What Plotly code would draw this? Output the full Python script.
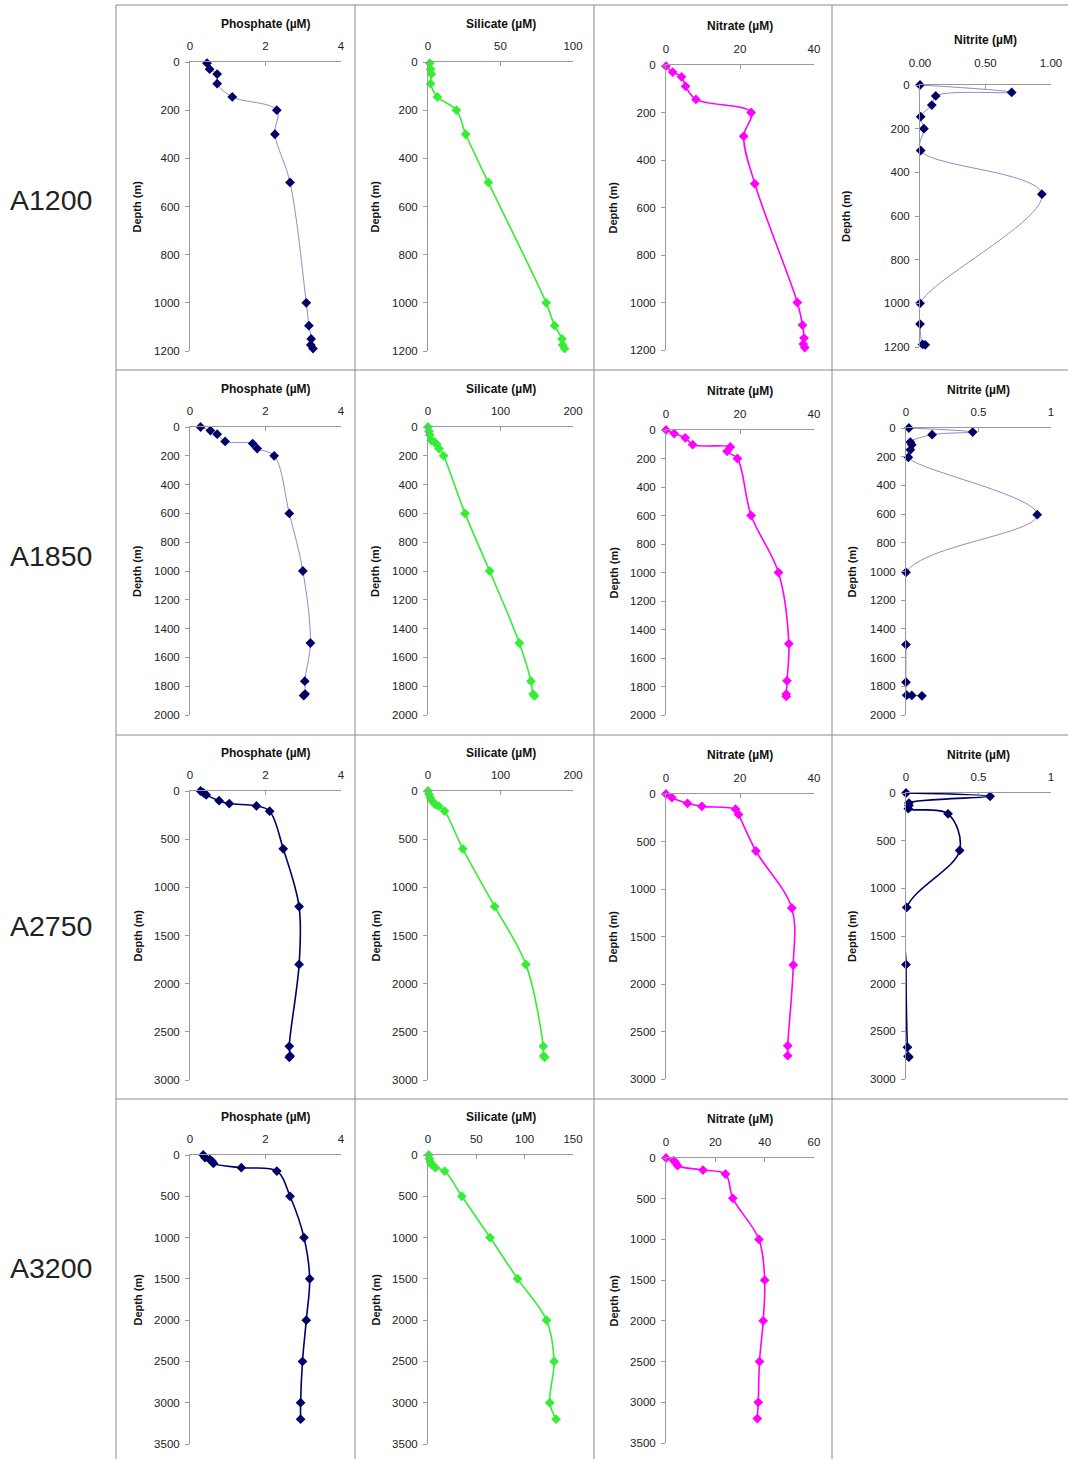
import plotly.graph_objects as go

# ---------------- data ----------------
stations = ["A1200", "A1850", "A2750", "A3200"]

# A1200
phos_depth_a1200 = [5, 30, 50, 90, 145, 200, 300, 500, 1000, 1095, 1150, 1175, 1190]
phos_a1200 = [0.45, 0.52, 0.72, 0.72, 1.12, 2.30, 2.25, 2.65, 3.08, 3.15, 3.21, 3.20, 3.26]
sil_depth_a1200 = [5, 30, 50, 90, 145, 200, 300, 500, 1000, 1095, 1150, 1175, 1190]
sil_a1200 = [1.2, 1.8, 2.3, 1.8, 6.5, 19.6, 26.0, 41.6, 81.5, 87.3, 92.4, 92.8, 94.2]
nitrate_depth_a1200 = [5, 30, 50, 90, 145, 200, 300, 500, 1000, 1095, 1150, 1175, 1190]
nitrate_a1200 = [0.0, 1.8, 4.2, 5.3, 8.1, 23.0, 21.0, 24.0, 35.5, 36.9, 37.3, 37.1, 37.5]
nitrite_depth_a1200 = [0, 34, 50, 92, 145, 200, 300, 500, 1000, 1095, 1188, 1190]
nitrite_a1200 = [0.0, 0.70, 0.12, 0.09, 0.005, 0.03, 0.005, 0.93, 0.0, 0.0, 0.02, 0.04]

# A1850
phos_depth_a1850 = [0, 25, 50, 100, 115, 150, 200, 600, 1000, 1500, 1765, 1855, 1865]
phos_a1850 = [0.28, 0.54, 0.72, 0.93, 1.66, 1.78, 2.23, 2.63, 2.99, 3.19, 3.04, 3.05, 3.01]
sil_depth_a1850 = [0, 30, 55, 92, 104, 120, 150, 200, 600, 1000, 1500, 1765, 1855, 1868]
sil_a1850 = [0.0, 1.3, 2.5, 4.4, 8.9, 12.0, 15.2, 21.5, 51.0, 85.0, 126.0, 142.0, 145.0, 147.0]
nitrate_depth_a1850 = [0, 25, 55, 103, 119, 150, 200, 600, 1000, 1500, 1760, 1853, 1870]
nitrate_a1850 = [0.0, 2.2, 5.2, 7.2, 17.4, 16.5, 19.3, 23.0, 30.4, 33.2, 32.7, 32.5, 32.5]
nitrite_depth_a1850 = [0, 28, 47, 98, 117, 152, 204, 604, 1006, 1509, 1771, 1862, 1864, 1866]
nitrite_a1850 = [0.02, 0.46, 0.18, 0.03, 0.04, 0.03, 0.016, 0.905, 0.0, 0.0, 0.0, 0.005, 0.04, 0.11]

# A2750
phos_depth_a2750 = [0, 20, 40, 100, 130, 155, 210, 600, 1200, 1800, 2650, 2750, 2765]
phos_a2750 = [0.28, 0.36, 0.43, 0.77, 1.04, 1.76, 2.11, 2.47, 2.89, 2.89, 2.63, 2.65, 2.63]
sil_depth_a2750 = [0, 35, 70, 104, 139, 156, 208, 600, 1200, 1800, 2650, 2750, 2765]
sil_a2750 = [0.0, 1.3, 3.2, 5.7, 10.0, 14.6, 22.8, 48.0, 92.0, 135.0, 159.0, 159.5, 160.8]
nitrate_depth_a2750 = [0, 39, 98, 130, 160, 215, 600, 1200, 1800, 2650, 2755]
nitrate_a2750 = [0.0, 1.6, 5.8, 9.7, 18.8, 19.6, 24.3, 34.0, 34.4, 32.9, 32.9]
nitrite_depth_a2750 = [0, 35, 105, 130, 165, 218, 603, 1200, 1800, 2667, 2762, 2770]
nitrite_a2750 = [0.0, 0.58, 0.02, 0.02, 0.016, 0.29, 0.37, 0.005, 0.0, 0.01, 0.014, 0.02]

# A3200
phos_depth_a3200 = [0, 32, 53, 73, 101, 154, 195, 500, 1000, 1500, 2000, 2500, 3000, 3200]
phos_a3200 = [0.35, 0.40, 0.52, 0.58, 0.62, 1.36, 2.30, 2.65, 3.02, 3.17, 3.08, 2.98, 2.93, 2.93]
sil_depth_a3200 = [0, 45, 85, 114, 154, 195, 500, 1000, 1500, 2000, 2500, 3000, 3200]
sil_a3200 = [0.7, 1.4, 2.4, 3.4, 7.6, 17.2, 35.0, 64.2, 92.7, 122.6, 130.4, 126.0, 132.5]
nitrate_depth_a3200 = [0, 33, 53, 95, 148, 197, 495, 1000, 1500, 2000, 2500, 3000, 3200]
nitrate_a3200 = [0.0, 3.1, 3.8, 4.7, 15.0, 24.1, 27.1, 37.7, 40.0, 39.4, 37.9, 37.4, 37.0]

# axis settings
depth_max = [1200, 2000, 3000, 3500]
depth_dtick = [200, 200, 500, 500]
phos_range = [0, 4]; phos_dtick = 2
sil_ranges = [[0, 100], [0, 200], [0, 200], [0, 150]]
sil_dticks = [50, 100, 100, 50]
nitrate_ranges = [[0, 40], [0, 40], [0, 40], [0, 60]]
nitrate_dticks = [20, 20, 20, 20]
nitrite_range = [0, 1]; nitrite_dtick = 0.5

# ---------------- layout geometry (pixels) ----------------
W, H = 1068, 1459
FONT = "Arial, Liberation Sans, sans-serif"
NAVY = "#000066"
LIGHT = "#8c8cc8"
GREEN = "#33ee33"
MAGENTA = "#ff00ff"

def px(x):
    return x / W

def py(y):
    return 1 - y / H

fig = go.Figure()
layout = {}
annotations = []
shapes = []

# row, col, title, depth, values, xrange, dtick, x px, y px, line colour, width,
# marker colour, tick format, depth-title x, tick label standoff, title offset
panel_list = [
    (0, 0, "Phosphate (µM)", phos_depth_a1200, phos_a1200, phos_range, phos_dtick, (190, 341), (62, 351), LIGHT, 1, NAVY, None, 137, 6, 38),
    (0, 1, "Silicate (µM)", sil_depth_a1200, sil_a1200, sil_ranges[0], sil_dticks[0], (428, 573), (62, 351), GREEN, 1.6, GREEN, None, 375, 6, 38),
    (0, 2, "Nitrate (µM)", nitrate_depth_a1200, nitrate_a1200, nitrate_ranges[0], nitrate_dticks[0], (666, 814), (65, 350), MAGENTA, 1.6, MAGENTA, None, 613, 6, 39),
    (0, 3, "Nitrite (µM)", nitrite_depth_a1200, nitrite_a1200, nitrite_range, nitrite_dtick, (920, 1051), (85, 347), LIGHT, 1, NAVY, ".2f", 846, 12, 45),
    (1, 0, "Phosphate (µM)", phos_depth_a1850, phos_a1850, phos_range, phos_dtick, (190, 341), (427, 715), LIGHT, 1, NAVY, None, 137, 6, 38),
    (1, 1, "Silicate (µM)", sil_depth_a1850, sil_a1850, sil_ranges[1], sil_dticks[1], (428, 573), (427, 715), GREEN, 1.6, GREEN, None, 375, 6, 38),
    (1, 2, "Nitrate (µM)", nitrate_depth_a1850, nitrate_a1850, nitrate_ranges[1], nitrate_dticks[1], (666, 814), (430, 715), MAGENTA, 1.6, MAGENTA, None, 613, 6, 39),
    (1, 3, "Nitrite (µM)", nitrite_depth_a1850, nitrite_a1850, nitrite_range, 0.5, (906, 1051), (428, 715), LIGHT, 1, NAVY, None, 852, 6, 38),
    (2, 0, "Phosphate (µM)", phos_depth_a2750, phos_a2750, phos_range, phos_dtick, (190, 341), (791, 1080), NAVY, 1.6, NAVY, None, 137, 6, 38),
    (2, 1, "Silicate (µM)", sil_depth_a2750, sil_a2750, sil_ranges[2], sil_dticks[2], (428, 573), (791, 1080), GREEN, 1.6, GREEN, None, 375, 6, 38),
    (2, 2, "Nitrate (µM)", nitrate_depth_a2750, nitrate_a2750, nitrate_ranges[2], nitrate_dticks[2], (666, 814), (794, 1079), MAGENTA, 1.6, MAGENTA, None, 613, 6, 39),
    (2, 3, "Nitrite (µM)", nitrite_depth_a2750, nitrite_a2750, nitrite_range, 0.5, (906, 1051), (793, 1079), NAVY, 1.6, NAVY, None, 852, 6, 38),
    (3, 0, "Phosphate (µM)", phos_depth_a3200, phos_a3200, phos_range, phos_dtick, (190, 341), (1155, 1444), NAVY, 1.6, NAVY, None, 137, 6, 38),
    (3, 1, "Silicate (µM)", sil_depth_a3200, sil_a3200, sil_ranges[3], sil_dticks[3], (428, 573), (1155, 1444), GREEN, 1.6, GREEN, None, 375, 6, 38),
    (3, 2, "Nitrate (µM)", nitrate_depth_a3200, nitrate_a3200, nitrate_ranges[3], nitrate_dticks[3], (666, 814), (1158, 1443), MAGENTA, 1.6, MAGENTA, None, 613, 6, 39),
]

for i, (r, c, title, dep, vals, xr, dt, xpx, ypx, lc, lw, mc, tf, dtx, tso, toff) in enumerate(panel_list, start=1):
    xa = "x" if i == 1 else f"x{i}"
    ya = "y" if i == 1 else f"y{i}"
    fig.add_trace(go.Scatter(
        x=vals, y=dep, xaxis=xa, yaxis=ya, mode="lines+markers",
        line=dict(color=lc, width=lw, shape="spline", smoothing=1),
        marker=dict(symbol="diamond", size=7.5, color=mc),
        cliponaxis=False, showlegend=False, hoverinfo="x+y",
    ))
    xkey = "xaxis" if i == 1 else f"xaxis{i}"
    ykey = "yaxis" if i == 1 else f"yaxis{i}"
    layout[xkey] = dict(
        domain=[px(xpx[0]), px(xpx[1])], anchor=ya, side="top", range=xr, dtick=dt,
        tick0=0, showgrid=False, zeroline=False, showline=True, linecolor="#9a9a9a",
        linewidth=1, ticks="inside", ticklen=4, tickcolor="#9a9a9a",
        tickfont=dict(family=FONT, size=11.5, color="#222222"), fixedrange=True,
        tickformat=tf if tf else "", ticklabelstandoff=tso, automargin=False,
    )
    layout[ykey] = dict(
        domain=[py(ypx[1]), py(ypx[0])], anchor=xa, range=[depth_max[r], 0],
        dtick=depth_dtick[r], tick0=0, showgrid=False, zeroline=False, showline=True,
        linecolor="#9a9a9a", linewidth=1, ticks="outside", ticklen=4, tickcolor="#9a9a9a",
        tickfont=dict(family=FONT, size=11.5, color="#222222"), fixedrange=True,
        ticklabelstandoff=3, automargin=False,
    )
    annotations.append(dict(
        text=f"<b>{title}</b>", x=px((xpx[0] + xpx[1]) / 2), y=py(ypx[0] - toff),
        xref="paper", yref="paper", showarrow=False, xanchor="center", yanchor="middle",
        font=dict(family=FONT, size=12, color="#111111"),
    ))
    annotations.append(dict(
        text="<b>Depth (m)</b>", x=px(dtx), y=py((ypx[0] + ypx[1]) / 2),
        xref="paper", yref="paper", showarrow=False, textangle=-90,
        xanchor="center", yanchor="middle",
        font=dict(family=FONT, size=11, color="#111111"),
    ))

# station labels
row_label_y = [200, 556, 926, 1268]
for name, yy in zip(stations, row_label_y):
    annotations.append(dict(
        text=name, x=px(51), y=py(yy), xref="paper", yref="paper", showarrow=False,
        xanchor="center", yanchor="middle", font=dict(family=FONT, size=28.5, color="#222222"),
    ))

# cell borders
GRID = "#8a8a8a"
for xv in [116, 355, 594, 832]:
    shapes.append(dict(type="line", xref="paper", yref="paper", x0=px(xv), x1=px(xv),
                       y0=py(5), y1=py(H), line=dict(color=GRID, width=1)))
for yv in [5, 370, 735, 1099]:
    shapes.append(dict(type="line", xref="paper", yref="paper", x0=px(116), x1=px(W),
                       y0=py(yv), y1=py(yv), line=dict(color=GRID, width=1)))

fig.update_layout(
    width=W, height=H, margin=dict(l=0, r=0, t=0, b=0, autoexpand=False),
    paper_bgcolor="white", plot_bgcolor="white", hovermode="closest",
    annotations=annotations, shapes=shapes, **layout,
)

fig.write_html(
    "out.html",
    config={"displayModeBar": False},
    post_script="document.body.style.margin='0';document.body.style.padding='0';"
                "document.documentElement.style.overflow='hidden';",
)
